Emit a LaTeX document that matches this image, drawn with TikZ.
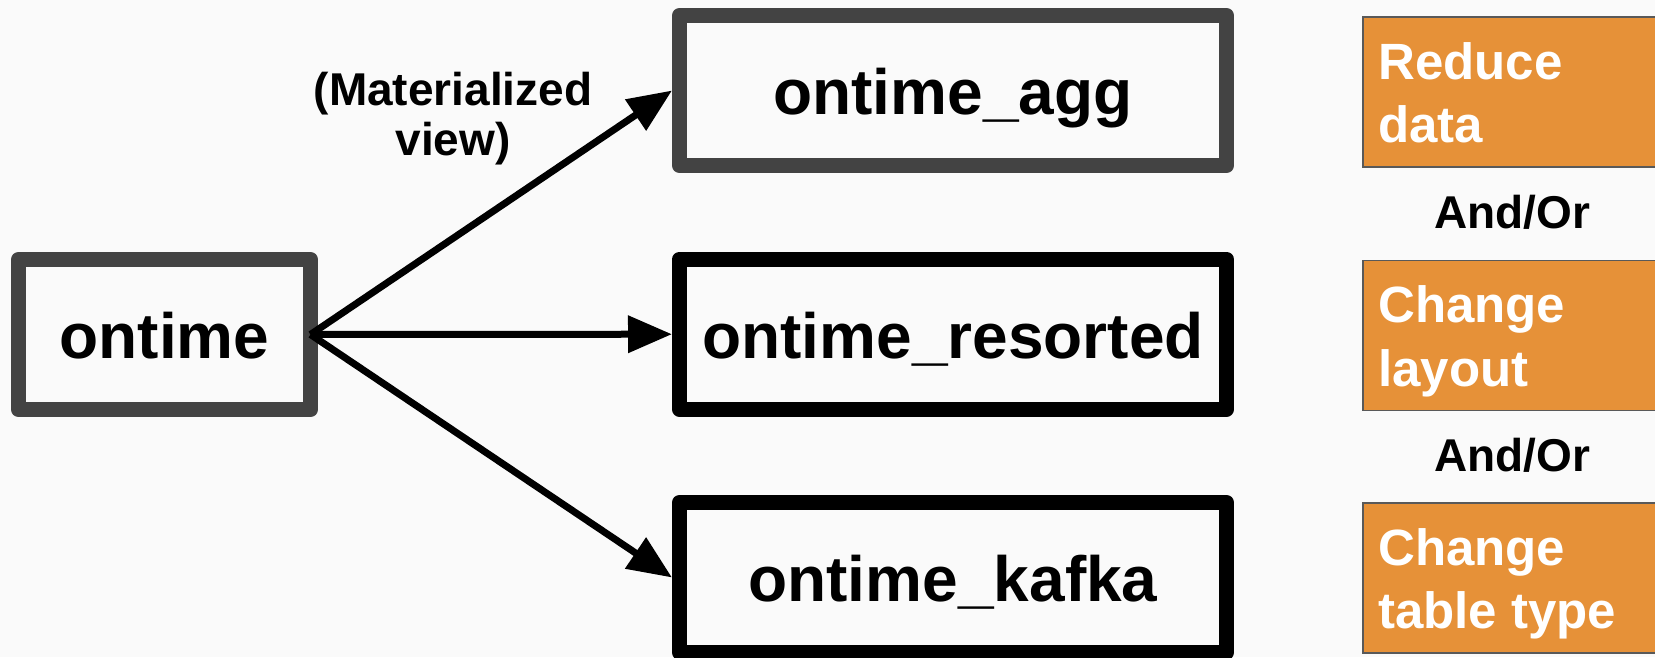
\documentclass[tikz,border=0pt]{standalone}
\usepackage{fontspec}
\setmainfont{Liberation Sans}
\usetikzlibrary{arrows.meta}
\definecolor{pagebg}{HTML}{FAFAFA}
\definecolor{framegray}{HTML}{434343}
\definecolor{accent}{HTML}{E69138}
\definecolor{accentedge}{HTML}{595959}
\begin{document}
\begin{tikzpicture}[x=1pt,y=-1pt,
  tablebox/.style={draw, line width=15pt, line join=round, fill=pagebg,
    minimum width=547pt, minimum height=150pt, inner sep=0pt, outer sep=7.5pt,
    font=\fontsize{64}{70}\selectfont\bfseries, text height=48pt, text depth=0pt},
  flow/.style={line width=7pt, -{Triangle[length=44pt,width=36pt]}},
  choicebox/.style={draw=accentedge, line width=1.5pt, fill=accent,
    minimum width=310pt, minimum height=150pt, anchor=north west, inner sep=0pt},
  choicetext/.style={text=white, font=\fontsize{51}{63.5}\selectfont\bfseries,
    align=left, anchor=north west, inner sep=0pt},
  joiner/.style={font=\fontsize{46}{50}\selectfont\bfseries, anchor=base, inner sep=0pt}]
\useasboundingbox (0,0) rectangle (1655,657);
\fill[pagebg] (0,0) rectangle (1655,657);
\clip (0,0) rectangle (1655,657);

% source table and the three derived tables
\node[tablebox, draw=framegray, minimum width=292pt, outer sep=0pt] (ontime) at (164.5,334.5) {ontime};
\node[tablebox, draw=framegray] (agg) at (953,90.5) {ontime\_agg};
\node[tablebox, draw=black] (resorted) at (953,334.2) {ontime\_resorted};
\node[tablebox, draw=black] (kafka) at (953,577.5) {ontime\_kafka};

% connectors
\draw[flow] (ontime.east) -- (agg.west);
\draw[flow] (ontime.east) -- (resorted.west);
\draw[flow] (ontime.east) -- (kafka.west);

\node[font=\fontsize{46}{50}\selectfont\bfseries, align=center, anchor=north, inner sep=0pt]
  (mview) at (453,72) {(Materialized\\view)};

% purposes column
\node[choicebox] (reduce) at (1362,16) {};
\node[choicetext] (reducetext) at (1378,42) {Reduce\\data};
\node[joiner] (andor1) at (1512,228.5) {And/Or};
\node[choicebox] (layout) at (1362,259.5) {};
\node[choicetext] (layouttext) at (1378,285.5) {Change\\layout};
\node[joiner] (andor2) at (1512,471.5) {And/Or};
\node[choicebox] (ttype) at (1362,502) {};
\node[choicetext] (ttypetext) at (1378,528) {Change\\table type};
\end{tikzpicture}
\end{document}
